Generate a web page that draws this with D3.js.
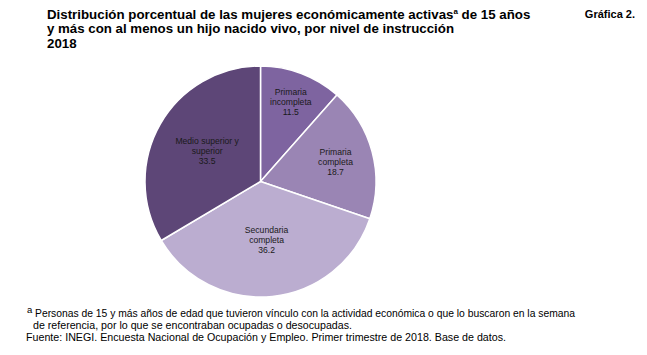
<!DOCTYPE html>
<html><head><meta charset="utf-8">
<script src="https://cdn.jsdelivr.net/npm/d3@7"></script>
<style>
body{margin:0;background:#fff;}
text{font-family:"Liberation Sans",Arial,sans-serif;}
</style></head>
<body>
<svg id="chart" width="647" height="355"></svg>
<script>
const categories = ["Primaria incompleta", "Primaria completa", "Secundaria completa", "Medio superior y superior"];
const labelLines = [["Primaria","incompleta"],["Primaria","completa"],["Secundaria","completa"],["Medio superior y","superior"]];
const values = [11.5, 18.7, 36.2, 33.5];
const colors = ["#7e64a0", "#9a85b4", "#bbadd0", "#5d4677"];

const svg = d3.select("#chart");
const cx = 260.5, cy = 181.5, r = 115.5;

// Title
const title = svg.append("g").attr("font-weight","bold").attr("font-size",13.3).attr("fill","#000");
const t1 = title.append("text").attr("x",47).attr("y",18.5);
t1.append("tspan").text("Distribución porcentual de las mujeres económicamente activas");
t1.append("tspan").attr("font-size",8).attr("dy",-5).text("a");
t1.append("tspan").attr("dy",5).text(" de 15 años");
title.append("text").attr("x",47).attr("y",33).attr("textLength",407).attr("lengthAdjust","spacingAndGlyphs")
  .text("y más con al menos un hijo nacido vivo, por nivel de instrucción");
title.append("text").attr("x",47).attr("y",47.5).text("2018");
svg.append("text").attr("x",635).attr("y",18).attr("text-anchor","end")
  .attr("font-weight","bold").attr("font-size",11).text("Gráfica 2.");

// Pie
const pie = d3.pie().sort(null).value(d => d);
const arcs = pie(values);
const arc = d3.arc().innerRadius(0).outerRadius(r);
const g = svg.append("g").attr("transform",`translate(${cx},${cy})`);
g.selectAll("path").data(arcs).join("path")
  .attr("d",arc).attr("fill",(d,i)=>colors[i])
  .attr("stroke","#fff").attr("stroke-width",1.5).attr("stroke-linejoin","round");

const total = d3.sum(values);
g.selectAll("text.lbl").data(arcs).join("text").attr("class","lbl")
  .attr("font-size",8.6).attr("fill","#1a1a1a").attr("text-anchor","middle")
  .each(function(d,i){
    const f = 0.85 - 0.95*(d.value/total);
    const c = d3.arc().innerRadius(r*f).outerRadius(r*f).centroid(d);
    const el = d3.select(this);
    const lines = labelLines[i].concat([d3.format(".1f")(values[i])]);
    const lh = 10;
    lines.forEach((s,k)=>{
      el.append("tspan").attr("x",c[0]).attr("y",c[1] + (k-(lines.length-1)/2)*lh + 3).text(s);
    });
  });

// Footnotes
const foot = svg.append("g").attr("font-size",10.5).attr("fill","#000");
foot.append("text").attr("x",27).attr("y",313).attr("font-size",9.5).text("a");
foot.append("text").attr("x",35).attr("y",317).attr("textLength",540).attr("lengthAdjust","spacingAndGlyphs")
  .text("Personas de 15 y más años de edad que tuvieron vínculo con la actividad económica o que lo buscaron en la semana");
foot.append("text").attr("x",33).attr("y",329).attr("textLength",319).attr("lengthAdjust","spacingAndGlyphs")
  .text("de referencia, por lo que se encontraban ocupadas o desocupadas.");
foot.append("text").attr("x",26).attr("y",341).attr("textLength",480).attr("lengthAdjust","spacingAndGlyphs")
  .text("Fuente: INEGI. Encuesta Nacional de Ocupación y Empleo. Primer trimestre de 2018. Base de datos.");
</script>
</body></html>
